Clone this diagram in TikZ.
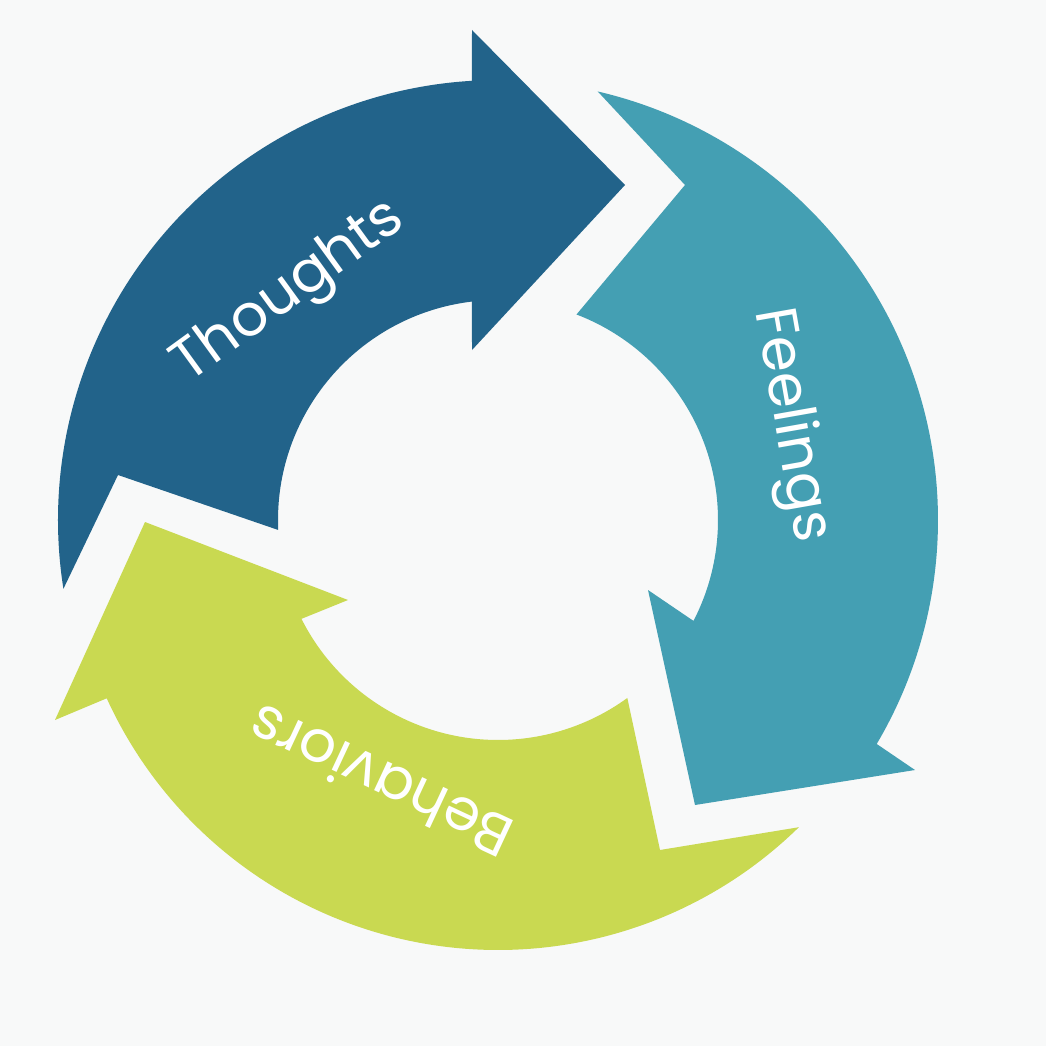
\documentclass[tikz,border=0pt]{standalone}
\usepackage{fontspec}
\setmainfont{Poppins}
\usetikzlibrary{calc}
\begin{document}
\begin{tikzpicture}[x=1pt,y=1pt,
  lbl/.style={text=white,font=\fontsize{58}{64}\selectfont}]
\fill[fill={rgb,255:red,248;green,249;blue,249}] (0,0) rectangle (1046,-1046);
\useasboundingbox (0,0) rectangle (1046,-1046);
\coordinate (c) at (498,-520);
% Thoughts
\fill[fill={rgb,255:red,34;green,99;blue,138}] ($(c)+(189:440)$) arc[start angle=189,end angle=93.4,radius=440]
  -- (472,-30) -- (625,-185) -- (472,-350) -- ($(c)+(96.8:220)$) arc[start angle=96.8,end angle=182.6,radius=220]
  -- (118,-475) -- cycle;
% Feelings
\fill[fill={rgb,255:red,68;green,159;blue,179}] ($(c)+(76.9:440)$) arc[start angle=76.9,end angle=-30.6,radius=440]
  -- (915,-770) -- (695,-805) -- (648,-590) -- ($(c)+(-27.3:220)$) arc[start angle=-27.3,end angle=69.1,radius=220]
  -- (685,-185) -- cycle;
% Behaviors
\fill[fill={rgb,255:red,201;green,217;blue,81}] ($(c)+(-45.6:430)$) arc[start angle=-45.6,end angle=-155.5,radius=430]
  -- (55,-720) -- (145,-522) -- (348,-600) -- ($(c)+(-153.3:220)$) arc[start angle=-153.3,end angle=-54,radius=220]
  -- (660,-850) -- cycle;
\node[lbl,rotate=36] (t) at (290,-293) {Thoughts};
\node[lbl,rotate=-80] (f) at (790,-425) {Feelings};
\node[lbl,rotate=155] (b) at (380,-782) {Behaviors};
\end{tikzpicture}
\end{document}
